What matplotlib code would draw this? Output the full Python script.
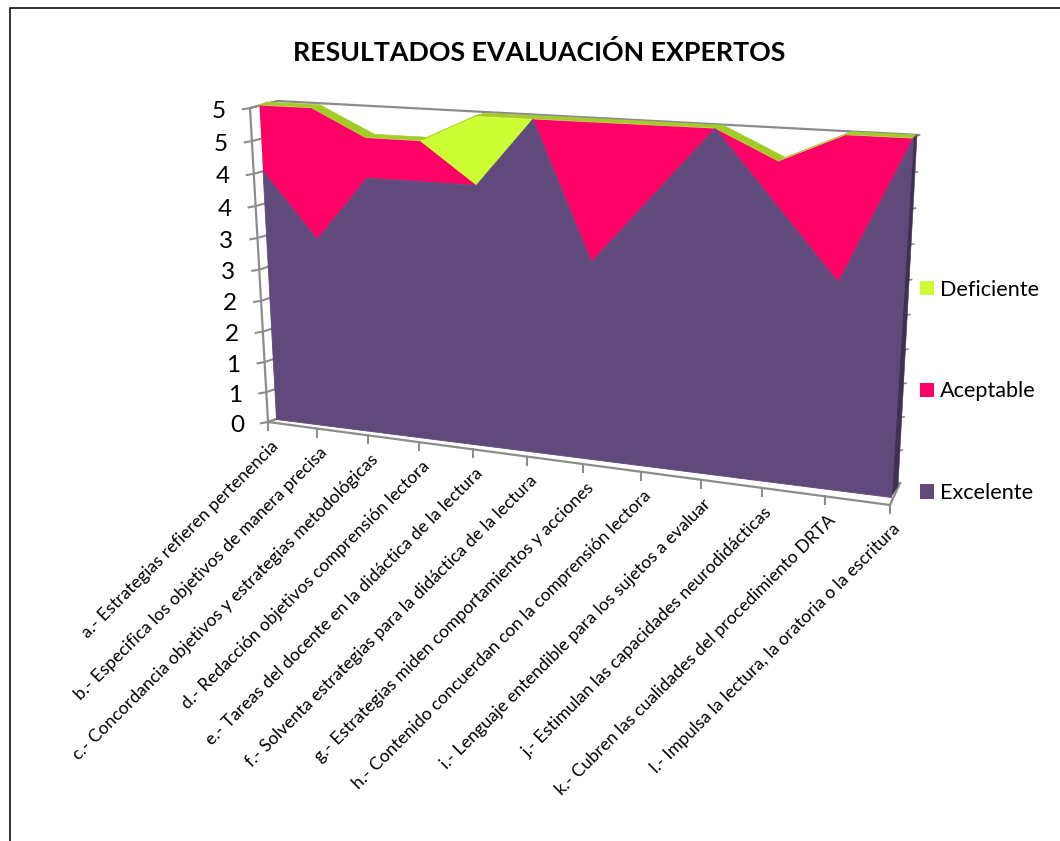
import numpy as np
import matplotlib
matplotlib.use("Agg")
import matplotlib.pyplot as plt
from matplotlib.patches import Patch, Polygon
from matplotlib.transforms import Transform

plt.rcParams['font.family'] = ['Lato', 'DejaVu Sans']

categories = [
    "a.- Estrategias refieren pertenencia",
    "b.- Especifica los objetivos de manera precisa",
    "c.- Concordancia objetivos y estrategias metodológicas",
    "d.- Redacción objetivos comprensión lectora",
    "e.- Tareas del docente en la didáctica de la lectura",
    "f.- Solventa estrategias para la didáctica de la lectura",
    "g.- Estrategias miden comportamientos y acciones",
    "h.- Contenido concuerdan con la comprensión lectora",
    "i.- Lenguaje entendible para los sujetos a evaluar",
    "j.- Estimulan las capacidades neurodidácticas",
    "k.- Cubren las cualidades del procedimiento DRTA",
    "l.- Impulsa la lectura, la oratoria o la escritura",
]
excelente = [4, 3, 4, 4, 4, 5, 3, 4, 5, 4, 3, 5]
aceptable = [1, 2, 0.6, 0.6, 0, 0, 2, 1, 0, 0.6, 2, 0]
deficiente = [0, 0, 0, 0, 1, 0, 0, 0, 0, 0, 0, 0]
y_ticks = [0, 0.5, 1, 1.5, 2, 2.5, 3, 3.5, 4, 4.5, 5]
y_tick_labels = ["0", "1", "1", "2", "2", "3", "3", "4", "4", "5", "5"]

C_EXC, C_ACE, C_DEF = "#604A7B", "#FF0066", "#CCFF33"
C_TOP, C_SIDE, C_GRAY = "#A3CC29", "#3F3151", "#8C8C8C"


class Plane(Transform):
    """Perspective map of (category index, value) onto picture pixels."""
    input_dims = output_dims = 2

    def __init__(self, bl, br, tr, tl, xmax=11.0, ymax=5.0):
        super().__init__()
        self.xmax, self.ymax = xmax, ymax
        src = [(0, 0), (1, 0), (1, 1), (0, 1)]
        dst = [bl, br, tr, tl]
        A, b = [], []
        for (u, v), (X, Y) in zip(src, dst):
            A.append([u, v, 1, 0, 0, 0, -u * X, -v * X]); b.append(X)
            A.append([0, 0, 0, u, v, 1, -u * Y, -v * Y]); b.append(Y)
        self.H = np.append(np.linalg.solve(np.array(A, float), np.array(b, float)), 1).reshape(3, 3)

    def transform_non_affine(self, values):
        p = np.asarray(values, float)
        q = np.c_[p[:, 0] / self.xmax, p[:, 1] / self.ymax, np.ones(len(p))] @ self.H.T
        return q[:, :2] / q[:, 2:]


fig = plt.figure(figsize=(10.6, 8.41), dpi=100, facecolor="white")
ax = fig.add_axes([0, 0, 1, 1])
ax.set_xlim(0, 1060)
ax.set_ylim(841, 0)
ax.axis("off")

axis_pl = Plane((268, 422), (890, 505), (913, 141), (250, 108))
front = Plane((276, 419), (891, 497), (913, 138), (259, 105))
back = Plane((283, 416), (898, 486), (917, 135), (267, 102))
wall = Plane((296, 412), (900, 483), (919, 135), (278, 101))

x = np.arange(len(categories))
exc = np.array(excelente, float)
ace = np.array(aceptable, float)
dfc = np.array(deficiente, float)
total = exc + ace + dfc


def px(pl, xs, ys):
    return pl.transform(np.array([[xs, ys]], float))[0]


gray = dict(color=C_GRAY, lw=1.6, solid_capstyle="round")

pts = [px(axis_pl, 0, 5), px(wall, 0, 5), px(wall, 11, 5)]
ax.plot(*np.array(pts).T, **gray, zorder=1)
pts = [px(axis_pl, 0, 0), px(axis_pl, 0, 5)]
ax.plot(*np.array(pts).T, **gray, zorder=1)
pts = [px(axis_pl, 0, 0), px(axis_pl, 11, 0), px(wall, 11, 0)]
ax.plot(*np.array(pts).T, **gray, zorder=1)
pts = [px(axis_pl, 0, 0), px(wall, 0, 0)]
ax.plot(*np.array(pts).T, **gray, zorder=1)

for t, lab in zip(y_ticks, y_tick_labels):
    a = px(axis_pl, 0, t)
    b = px(wall, 0, t)
    ax.plot([a[0] - 7, a[0], b[0]], [a[1] + 1.2, a[1], b[1]], color=C_GRAY, lw=1.5, zorder=1)
    ax.text(a[0] - 31, a[1] + 3, lab, fontsize=17.5, ha="center", va="center", color="black")
    r = px(wall, 11, t)
    ax.plot([r[0] - 4, r[0] + 0.5], [r[1] + 0.8, r[1]], color=C_GRAY, lw=1.2, zorder=1)

for i, lab in enumerate(categories):
    a = px(axis_pl, i, 0)
    ax.plot([a[0], a[0]], [a[1], a[1] + 8], color=C_GRAY, lw=1.5, zorder=1)
    ax.text(a[0] + 2, a[1] + 16, lab, fontsize=12.7, rotation=45, ha="right", va="top",
            rotation_mode="anchor", color="black")

for i in range(len(x) - 1):
    quad = [px(front, x[i], total[i]), px(front, x[i + 1], total[i + 1]),
            px(back, x[i + 1], total[i + 1]), px(back, x[i], total[i])]
    ax.add_patch(Polygon(quad, closed=True, fc=C_TOP, ec=C_TOP, lw=0.4, zorder=2))
side = [px(front, 11, 0), px(front, 11, total[-1]), px(back, 11, total[-1]), px(back, 11, 0)]
ax.add_patch(Polygon(side, closed=True, fc=C_SIDE, ec=C_SIDE, lw=0.4, zorder=2))

ax.fill_between(x, exc, total, color=C_DEF, lw=0, zorder=3, transform=front + ax.transData)
ax.fill_between(x, exc, exc + ace, color=C_ACE, lw=0, zorder=4, transform=front + ax.transData)
ax.fill_between(x, 0, exc, facecolor=C_EXC, edgecolor=C_EXC, lw=0.6, zorder=5, transform=front + ax.transData)
ax.set_xlim(0, 1060)
ax.set_ylim(841, 0)

ax.text(539, 52, "RESULTADOS EVALUACIÓN EXPERTOS", fontsize=19.3, fontweight="bold",
        ha="center", va="center", color="black")

ax.plot([9.5, 9.5, 1060], [841, 7.5, 7.5], color="#222222", lw=1.3, zorder=6)

handles = [Patch(fc=C_DEF, ec="none"), Patch(fc=C_ACE, ec="none"), Patch(fc=C_EXC, ec="none")]
ax.legend(handles, ["Deficiente", "Aceptable", "Excelente"], loc="upper left",
          bbox_to_anchor=(920 / 1060, 1 - 279.5 / 841), bbox_transform=fig.transFigure,
          frameon=False, fontsize=15.6, borderpad=0, borderaxespad=0,
          handlelength=0.65, handleheight=0.65, handletextpad=0.25, labelspacing=3.78)

fig.savefig("out.png", dpi=100)
